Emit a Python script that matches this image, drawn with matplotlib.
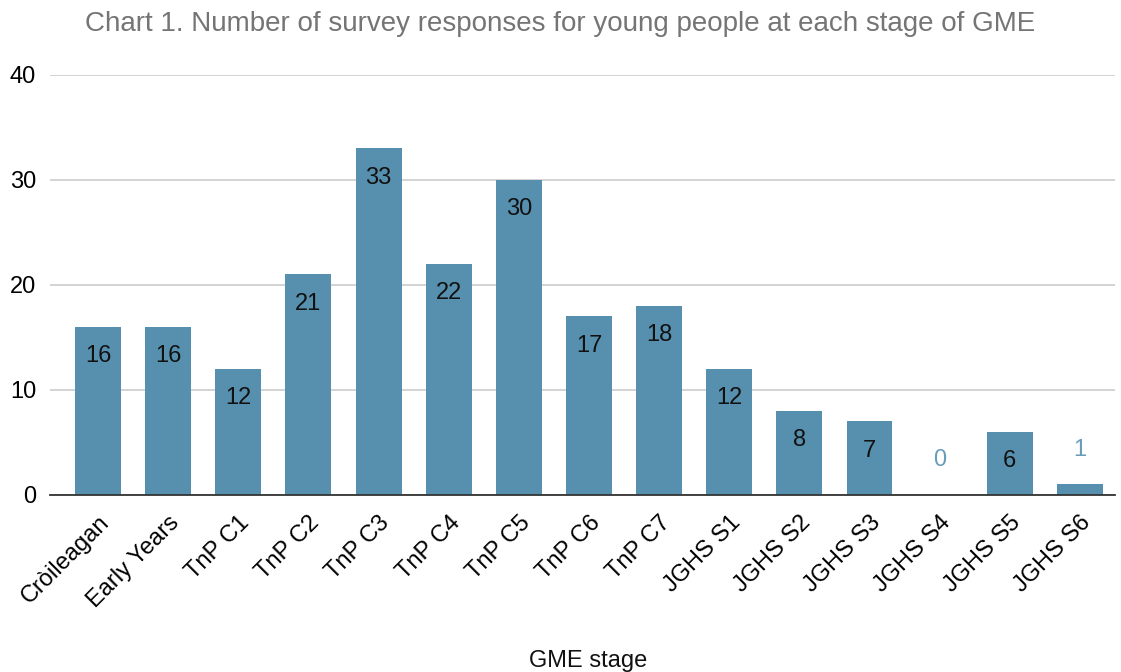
import matplotlib
matplotlib.use("Agg")
import matplotlib.pyplot as plt
import numpy as np

stages = ["Cròileagan", "Early Years", "TnP C1", "TnP C2", "TnP C3", "TnP C4",
          "TnP C5", "TnP C6", "TnP C7", "JGHS S1", "JGHS S2", "JGHS S3",
          "JGHS S4", "JGHS S5", "JGHS S6"]
responses = [16, 16, 12, 21, 33, 22, 30, 17, 18, 12, 8, 7, 0, 6, 1]
y_ticks = [0, 10, 20, 30, 40]

bar_color = "#5790ae"

plt.rcParams['font.family'] = ['Liberation Sans', 'DejaVu Sans']

fig = plt.figure(figsize=(11.21, 6.72), dpi=100)
ax = fig.add_axes([0.0446, 0.2634, 0.95, 0.625])

x = np.arange(len(stages))
ax.bar(x, responses, width=0.655, color=bar_color, zorder=2)

# value labels: inside the bar top, or above it when the bar is too short
for xi, v in zip(x, responses):
    if v >= 3:
        ax.annotate(str(v), (xi, v), xytext=(0, -13), textcoords="offset points",
                    ha="center", va="top", fontsize=17, color="#111111")
    else:
        ax.annotate(str(v), (xi, v), xytext=(0, 17), textcoords="offset points",
                    ha="center", va="bottom", fontsize=17, color="#6a9dba")

ax.set_xlim(-0.685, len(stages) - 0.5)
ax.set_ylim(0, 40)
ax.set_yticks(y_ticks)
ax.set_yticklabels([str(t) for t in y_ticks], fontsize=17)
ax.set_xticks(x)
ax.set_xticklabels(stages, rotation=45, ha="right", rotation_mode="anchor", fontsize=17)
ax.tick_params(length=0, pad=10)
ax.tick_params(axis="x", pad=12)

ax.grid(axis="y", color="#cccccc", linewidth=1.2, zorder=0)
for s in ["top", "right", "left"]:
    ax.spines[s].set_visible(False)
ax.spines["bottom"].set_color("#333333")
ax.spines["bottom"].set_linewidth(1.3)
ax.spines["bottom"].set_zorder(3)

fig.text(0.5, 0.965, "Chart 1. Number of survey responses for young people at each stage of GME",
         ha="center", va="center", fontsize=20, color="#757575")
fig.text(0.525, 0.016, "GME stage", ha="center", va="center", fontsize=17, color="#111111")

fig.savefig("out.png", dpi=100)
